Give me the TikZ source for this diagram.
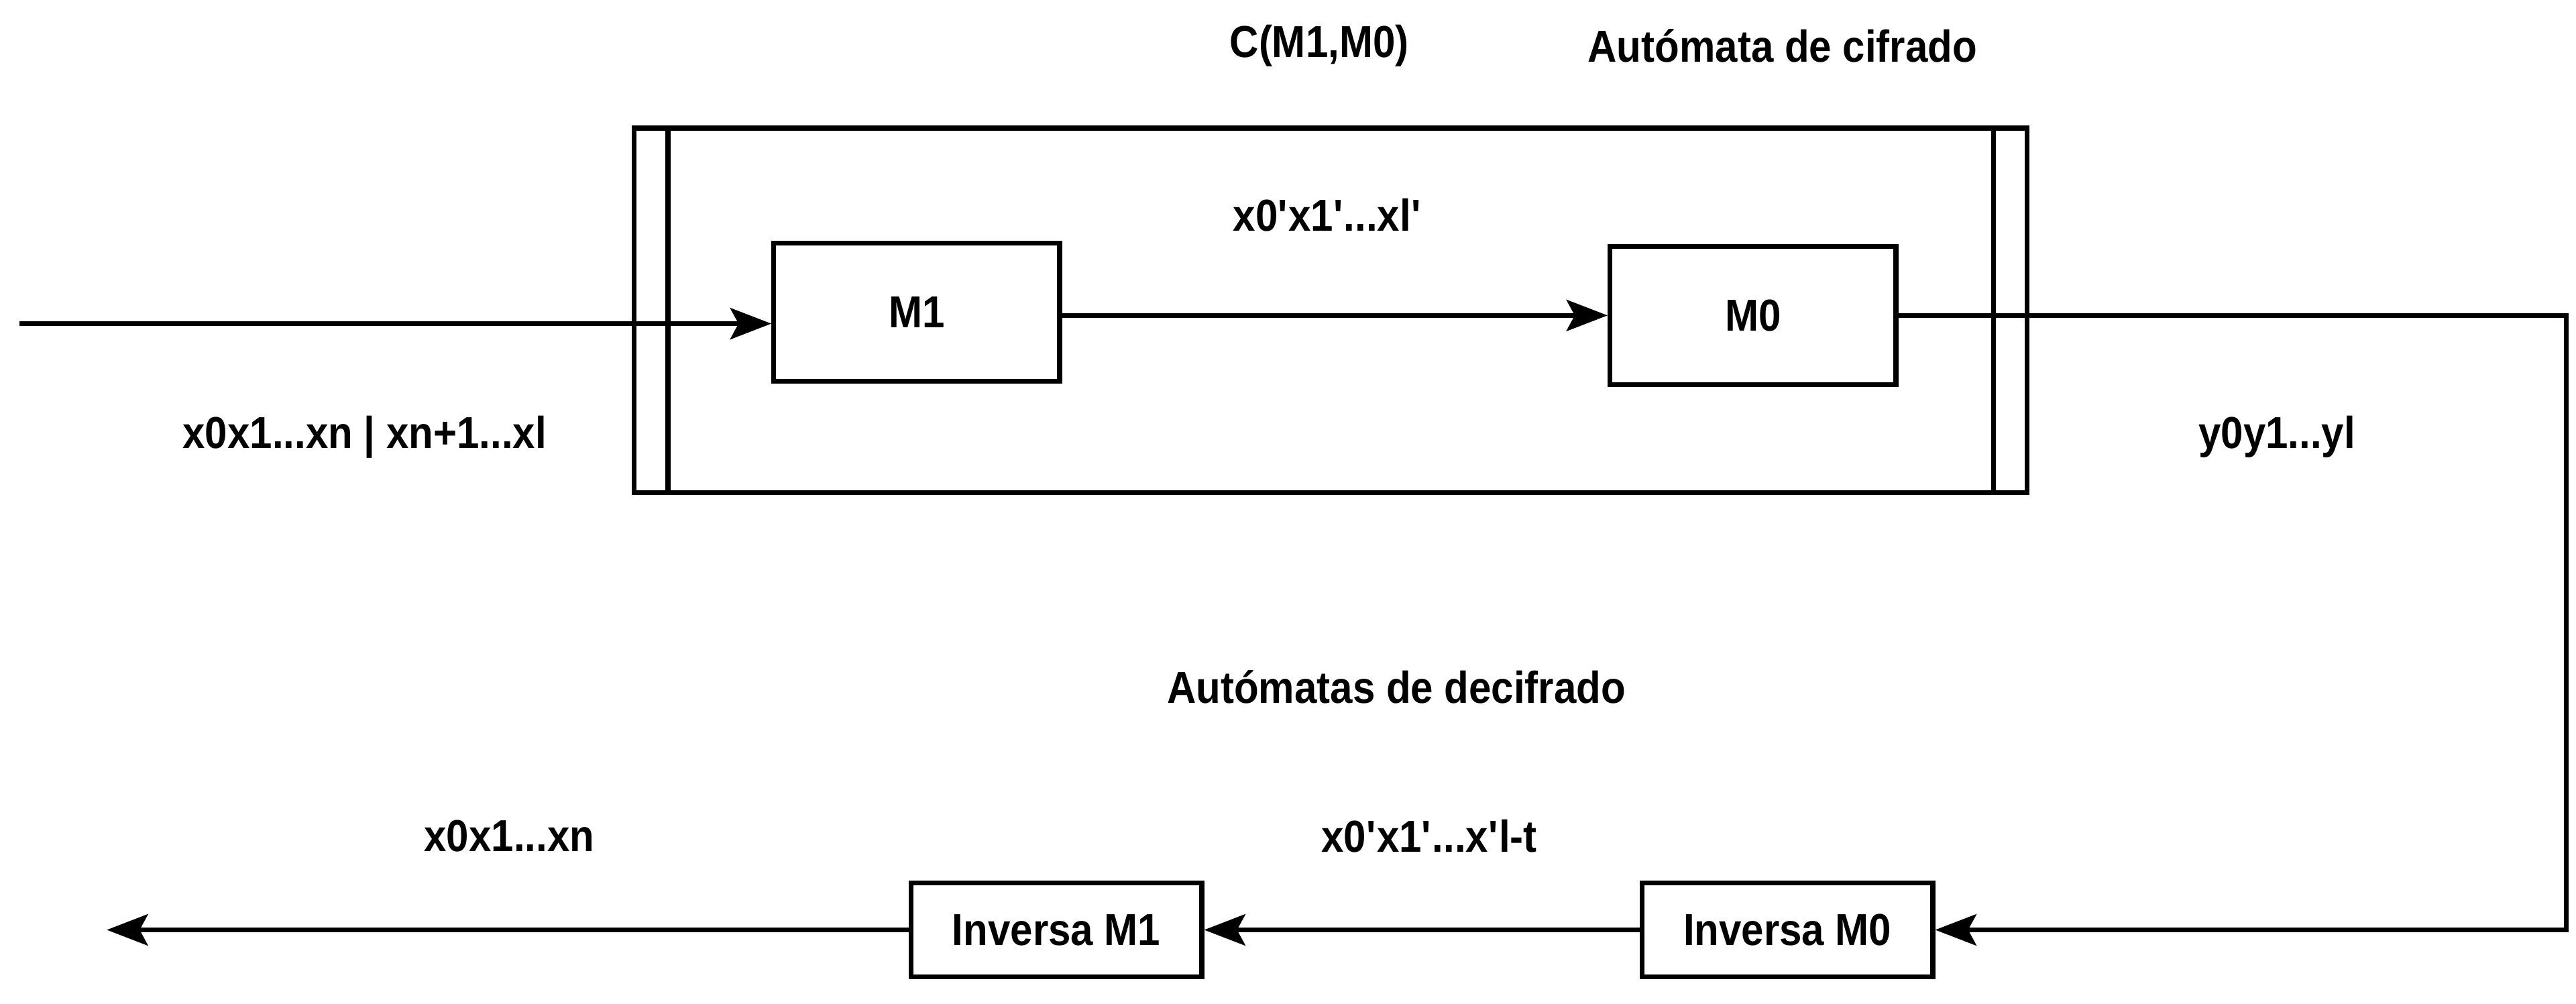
\documentclass[tikz,border=0pt]{standalone}
\usepackage{fontspec}
\setmainfont{Liberation Sans}[FakeStretch=0.9]
\usepackage{tikz}
\usetikzlibrary{arrows.meta}
\newcommand{\apos}{\textquotesingle}

\begin{document}
\begin{tikzpicture}[x=0.02cm, y=-0.02cm,
  font=\fontsize{15.5}{17}\selectfont\bfseries,
  every path/.style={line width=1.7pt},
  bloque/.style={draw, line width=1.7pt, minimum width=3.48cm, minimum height=1.68cm},
  inversa/.style={draw, line width=1.7pt, minimum width=3.54cm, minimum height=1.14cm},
  flecha/.style={-{Stealth[length=0.5cm, width=0.38cm, inset=0.1cm]}}]
\useasboundingbox (0,0) rectangle (1568,611);

% Automata de cifrado
\node[draw, line width=1.7pt, minimum width=16.96cm, minimum height=4.44cm] (cifra) at (810,189) {};
\draw ([xshift=0.44cm]cifra.north west) -- ([xshift=0.44cm]cifra.south west);
\draw ([xshift=-0.44cm]cifra.north east) -- ([xshift=-0.44cm]cifra.south east);

\node[bloque] (M1) at (558,190) {M1};
\node[bloque] (M0) at (1067,192) {M0};

% Automatas de decifrado
\node[inversa] (invM0) at (1088,566) {Inversa M0};
\node[inversa] (invM1) at (643,566) {Inversa M1};

% Labels
\node (lblC) at (803,28) {C(M1,M0)};
\node (lblcifrado) at (1085,28) {Autómata de cifrado};
\node (lblxp) at (808,131) {x0\apos x1\apos...xl\apos};
\node (lblin) at (222,266) {x0x1...xn | xn+1...xl};
\node (lbly) at (1386,266) {y0y1...yl};
\node (lbldecif) at (850,418) {Autómatas de decifrado};
\node (lblout) at (310,509) {x0x1...xn};
\node (lblxpt) at (870,509) {x0\apos x1\apos...x\apos l-t};

% Connectors
\coordinate (entrada) at (12,197);
\coordinate (esq) at (1562,192);
\coordinate (salida) at (65,566);
\draw[flecha] (entrada) -- (entrada -| M1.west);
\draw[flecha] (M1.east |- M0) -- (M0.west);
\draw[flecha] (M0.east) -- (esq) |- (invM0.east);
\draw[flecha] (invM0.west) -- (invM1.east);
\draw[flecha] (invM1.west) -- (salida);

\end{tikzpicture}
\end{document}
